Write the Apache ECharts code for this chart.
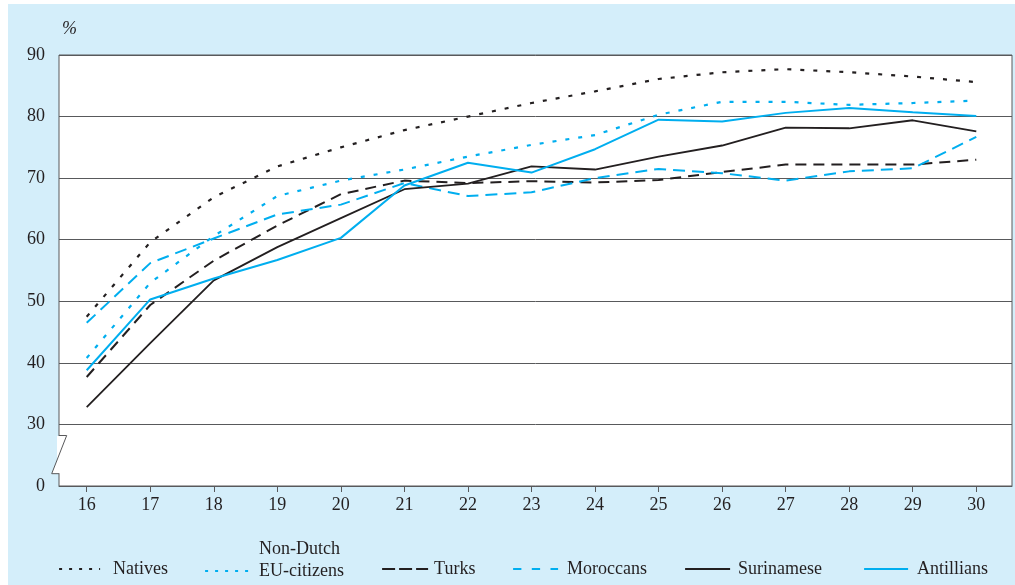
<!DOCTYPE html>
<html>
<head>
<meta charset="utf-8">
<script src="https://cdn.jsdelivr.net/npm/echarts@6/dist/echarts.min.js"></script>
<style>
html,body{margin:0;padding:0;background:#fff;}
#c{width:1015px;height:585px;}
</style>
</head>
<body>
<div id="c"></div>
<script>
// ---- data ----
var ages = [16, 17, 18, 19, 20, 21, 22, 23, 24, 25, 26, 27, 28, 29, 30];
var yTicks = [20, 30, 40, 50, 60, 70, 80, 90];      // 20 is shown as "0" (axis break)
var natives    = [47.5, 59.6, 66.9, 71.9, 75.0, 77.8, 80.0, 82.2, 84.1, 86.1, 87.2, 87.7, 87.2, 86.5, 85.6];
var euCitizens = [40.8, 53.0, 60.6, 67.1, 69.6, 71.4, 73.5, 75.4, 77.0, 80.3, 82.4, 82.4, 81.9, 82.2, 82.6];
var turks      = [37.7, 49.4, 56.6, 62.3, 67.4, 69.6, 69.2, 69.5, 69.3, 69.7, 71.0, 72.2, 72.2, 72.2, 73.0];
var moroccans  = [46.5, 56.2, 60.2, 64.1, 65.7, 69.2, 67.1, 67.7, 70.0, 71.5, 70.8, 69.6, 71.1, 71.6, 76.7];
var surinamese = [32.8, 43.2, 53.4, 58.8, 63.5, 68.2, 69.1, 71.9, 71.4, 73.5, 75.3, 78.2, 78.1, 79.4, 77.6];
var antillians = [38.8, 50.3, 53.7, 56.7, 60.3, 68.8, 72.5, 70.9, 74.7, 79.5, 79.2, 80.6, 81.4, 80.7, 80.1];

var BLACK = '#231f20', BLUE = '#00aeef', GRID = '#58595b', BG = '#d4eefa';
var FONT = 'Liberation Serif';

function pairs(arr) { return arr.map(function (v, i) { return [ages[i], v]; }); }

function mkSeries(name, data, color, type, width) {
  return {
    name: name, type: 'line', data: pairs(data), symbol: 'none',
    lineStyle: { color: color, width: width, type: type, cap: 'butt' },
    itemStyle: { color: color },
    emphasis: { disabled: true }, animation: false, z: 3
  };
}

function mkLegend(name, left, top, w, pad, lineType, color, width, multi) {
  var lg = {
    data: [name], left: left, top: top, itemWidth: w, itemHeight: 14, padding: 0,
    selectedMode: false,
    itemStyle: { opacity: 0 },
    lineStyle: { type: lineType, color: color, width: width, cap: 'butt' },
    textStyle: { fontFamily: FONT, fontSize: 18, color: BLACK, padding: [0, 0, 12, pad] }
  };
  if (multi) {
    lg.formatter = function () { return 'Non-Dutch\nEU-citizens\n '; };
    lg.textStyle.lineHeight = 22;
  }
  return lg;
}

var chart = echarts.init(document.getElementById('c'), null, { renderer: 'canvas' });

var option = {
  backgroundColor: BG,
  animation: false,
  grid: {
    left: 59, right: 3, top: 55, bottom: 99,
    show: true, backgroundColor: '#ffffff', borderColor: GRID, borderWidth: 1
  },
  xAxis: {
    type: 'value', min: 15.564, max: 30.562,
    axisLine: { show: true, lineStyle: { color: GRID, width: 1 } },
    axisTick: { show: true, length: 6, customValues: ages, lineStyle: { color: GRID } },
    axisLabel: { customValues: ages, margin: 10, fontFamily: FONT, fontSize: 18, color: BLACK },
    splitLine: { show: false }
  },
  yAxis: {
    type: 'value', min: 20, max: 90, interval: 10,
    name: '%', nameLocation: 'end', nameGap: 17,
    nameTextStyle: { fontFamily: FONT, fontSize: 18, fontStyle: 'italic', color: BLACK, align: 'left', padding: [0, 0, 0, 3] },
    axisLine: { show: false },
    axisTick: { show: false },
    axisLabel: {
      margin: 14, fontFamily: FONT, fontSize: 18, color: BLACK,
      formatter: function (v) { return v === yTicks[0] ? '0' : String(v); }
    },
    splitLine: { show: true, lineStyle: { color: GRID, width: 1 } }
  },
  legend: [
    mkLegend('Natives', 58, 560, 41, 8, [3, 7], BLACK, 2.2),
    mkLegend('Non-Dutch EU-citizens', 204, 532, 44, 5, [3, 7], BLUE, 2.2, true),
    mkLegend('Turks', 381, 560, 46, 1, [13, 4], BLACK, 2.2),
    mkLegend('Moroccans', 512, 560, 45, 4, [8.3, 10.4], BLUE, 2.2),
    mkLegend('Surinamese', 684, 560, 45, 3, 'solid', BLACK, 2.2),
    mkLegend('Antillians', 863, 560, 44, 4, 'solid', BLUE, 2.2)
  ],
  series: [
    mkSeries('Natives', natives, BLACK, [4, 9], 2.2),
    mkSeries('Non-Dutch EU-citizens', euCitizens, BLUE, [4, 9], 2.2),
    mkSeries('Turks', turks, BLACK, [11, 7], 2),
    mkSeries('Moroccans', moroccans, BLUE, [12, 7], 2),
    mkSeries('Surinamese', surinamese, BLACK, 'solid', 1.8),
    mkSeries('Antillians', antillians, BLUE, 'solid', 2)
  ]
};
chart.setOption(option);

// axis-break decoration on the left axis (between 0 and 30), and page margins
var L = chart.convertToPixel({ xAxisIndex: 0 }, 15.564);
var yTop = chart.convertToPixel({ yAxisIndex: 0 }, 28.2);
var yBot = chart.convertToPixel({ yAxisIndex: 0 }, 22.0);
chart.setOption({
  graphic: [
    { type: 'rect', z: 100, silent: true, shape: { x: 0, y: 0, width: 1015, height: 4 }, style: { fill: '#ffffff' } },
    { type: 'rect', z: 100, silent: true, shape: { x: 0, y: 0, width: 8, height: 585 }, style: { fill: '#ffffff' } },
    { type: 'rect', z: 100, silent: true, shape: { x: L - 2, y: yTop + 0.5, width: 4, height: yBot - yTop - 1 }, style: { fill: '#ffffff' } },
    { type: 'polygon', z: 101, silent: true,
      shape: { points: [[L, yTop], [L + 7.7, yTop], [L - 7.3, yBot], [L, yBot]] },
      style: { fill: '#ffffff' } },
    { type: 'polyline', z: 102, silent: true,
      shape: { points: [[L, yTop], [L + 7.7, yTop], [L - 7.3, yBot], [L, yBot]] },
      style: { stroke: GRID, lineWidth: 1, fill: null } }
  ]
});
</script>
</body>
</html>
